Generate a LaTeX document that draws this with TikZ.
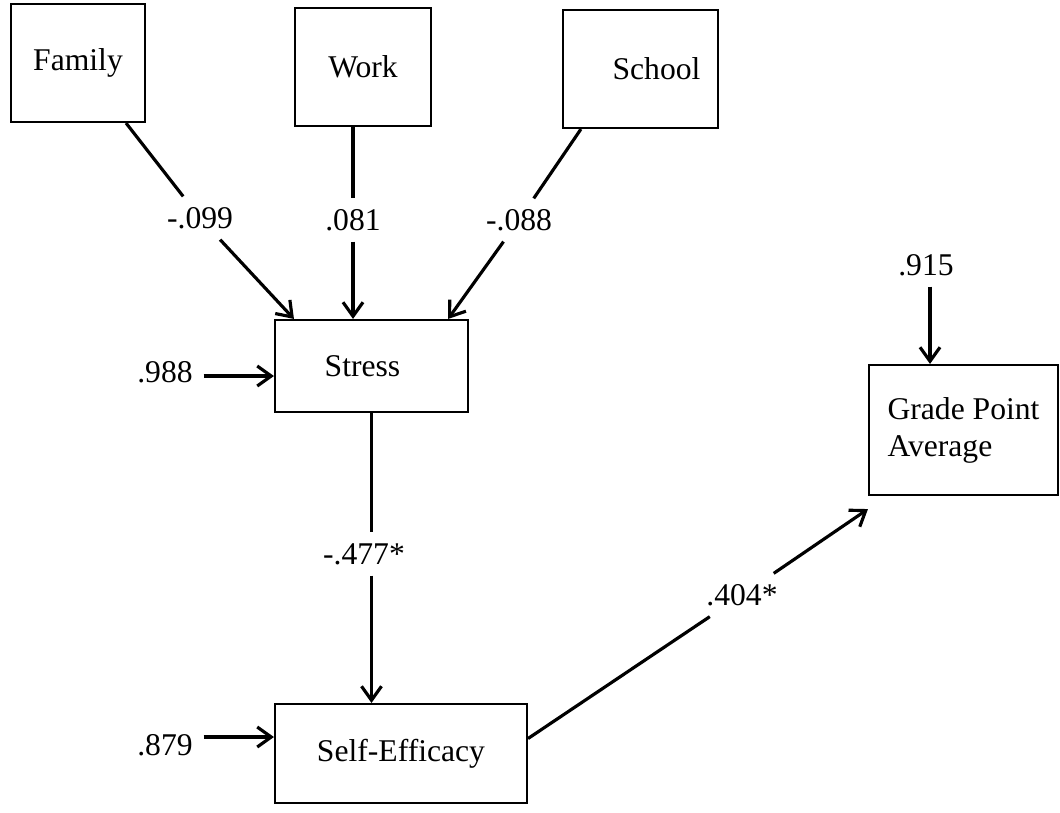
\documentclass[tikz,border=0pt]{standalone}
\usepackage{fontspec}
\setmainfont{Liberation Serif}
\usepackage{tikz}
\usetikzlibrary{arrows.meta}

\begin{document}
\begin{tikzpicture}[every node/.style={font=\fontsize{18}{21}\selectfont},
    box/.style={draw, line width=1.2pt, minimum height=2.36cm, align=center},
    val/.style={inner sep=6pt},
    path/.style={line width=1.8pt},
    arr/.style={line width=1.8pt, -{Straight Barb[length=2.8mm,width=4mm]}}]
        \useasboundingbox (0,0) rectangle (21.2,-16.24);
        \node[box, minimum width=2.68cm] (fam) at (1.56,-1.26) {\raisebox{-0.1cm}{Family}};
        \node[box, minimum width=2.72cm] (work) at (7.26,-1.34) {Work};
        \node[box, minimum width=3.1cm] (school) at (12.81,-1.38) {\hspace*{0.64cm}School};
        \node[box, minimum width=3.86cm, minimum height=1.84cm] (stress) at (7.43,-7.32) {\hspace*{-0.36cm}Stress};
        \node[box, minimum width=5.04cm, minimum height=1.98cm] (se) at (8.02,-15.07) {Self-Efficacy};
        \node[box, minimum width=3.78cm, minimum height=2.6cm, align=left] (gpa) at (19.27,-8.6) {Grade Point\\Average};
        \node[val] (pfam) at (4.0,-4.36) {-.099};
        \node[val] (pwork) at (7.06,-4.4) {.081};
        \node[val] (pschool) at (10.38,-4.4) {-.088};
        \node[val] (pstress) at (7.28,-11.08) {-.477*};
        \node[val] (pse) at (14.84,-11.9) {.404*};
        \node[val] (estress) at (3.3,-7.44) {.988};
        \node[val] (ese) at (3.3,-14.9) {.879};
        \node[val] (egpa) at (18.52,-5.3) {.915};
        \draw[path] ([xshift=-0.4cm]fam.south east) -- (pfam);
        \draw[arr] (pfam) -- ([xshift=0.4cm]stress.north west);
        \draw[path] (pwork |- work.south) -- (pwork);
        \draw[arr] (pwork) -- (pwork |- stress.north);
        \draw[path] ([xshift=0.38cm]school.south west) -- (pschool);
        \draw[arr] (pschool) -- ([xshift=-0.42cm]stress.north east);
        \draw[path] (stress.south) -- (stress |- pstress.north);
        \draw[arr] (stress |- pstress.south) -- (stress |- se.north);
        \draw[path] ([yshift=0.3cm]se.east) -- (pse);
        \draw[arr] (pse) -- ([yshift=-0.26cm]gpa.south west);
        \draw[arr] ([yshift=-0.08cm]estress.east) -- ([yshift=-0.08cm]estress.east -| stress.west);
        \draw[arr] ([yshift=0.16cm]ese.east) -- ([yshift=0.16cm]ese.east -| se.west);
        \draw[arr] ([xshift=0.08cm]egpa.south) -- ([xshift=0.08cm]egpa.south |- gpa.north);
    \end{tikzpicture}
\end{document}
